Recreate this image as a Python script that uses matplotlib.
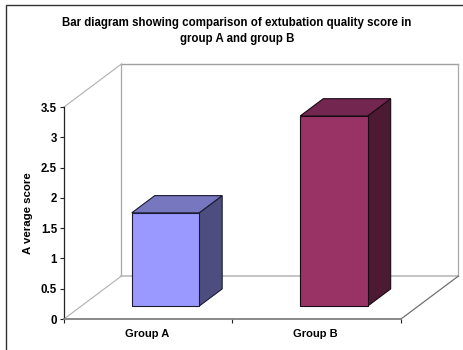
import matplotlib
matplotlib.use("Agg")
import matplotlib.pyplot as plt
from matplotlib.patches import Polygon, Rectangle

# Data
groups = ["Group A", "Group B"]
scores = [1.54, 3.14]
y_ticks = [0, 0.5, 1, 1.5, 2, 2.5, 3, 3.5]
y_tick_labels = ["0", "0.5", "1", "1.5", "2", "2.5", "3", "3.5"]
title = "Bar diagram showing comparison of extubation quality score in\ngroup A and group B"

# Colours: front, side, top
bar_colors = [("#9999FF", "#4D4D80", "#7777C0"), ("#993366", "#4D1A33", "#732650")]

W, H = 464, 350
Y_MAX = 3.5

# Fake 3D: how far the back wall is shifted, in data units
DEPTH_X = 0.341
DEPTH_Y = 0.71


def project(x, y, depth):
    return (x + depth * DEPTH_X, y + depth * DEPTH_Y)


def face(ax, pts, color, edge, lw=0.8, z=3):
    ax.add_patch(Polygon([project(*p) for p in pts], closed=True, facecolor=color,
                         edgecolor=edge, linewidth=lw, clip_on=False, zorder=z,
                         joinstyle="miter"))


def wall_line(ax, a, b, color, lw):
    ax.plot(*zip(project(*a), project(*b)), color=color, lw=lw, clip_on=False, zorder=1)


def draw_walls(ax):
    # back wall
    wall_line(ax, (0, 0, 1), (0, Y_MAX, 1), "#A8A8A8", 0.9)
    wall_line(ax, (0, Y_MAX, 1), (2, Y_MAX, 1), "#A0A0A0", 1.0)
    wall_line(ax, (2, 0, 1), (2, Y_MAX, 1), "#A8A8A8", 0.9)
    wall_line(ax, (0, 0, 1), (2, 0, 1), "#C4C4C4", 1.4)
    # side wall and floor edges
    wall_line(ax, (0, Y_MAX, 0), (0, Y_MAX, 1), "#B0B0B0", 0.8)
    wall_line(ax, (0, 0, 0), (0, 0, 1), "#B0B0B0", 0.8)
    wall_line(ax, (2, 0, 0), (2, 0, 1), "#707070", 0.9)


def draw_bar(ax, center, value, colors, width=0.4, d0=0.3, d1=0.7):
    front, side, top = colors
    x0, x1 = center - width / 2, center + width / 2
    edge = "#1A1A33" if center < 1 else "#1A0A14"
    face(ax, [(x1, 0, d0), (x1, 0, d1), (x1, value, d1), (x1, value, d0)], side, edge)
    face(ax, [(x0, value, d0), (x1, value, d0), (x1, value, d1), (x0, value, d1)], top, edge)
    face(ax, [(x0, 0, d0), (x1, 0, d0), (x1, value, d0), (x0, value, d0)], front, edge)


def main():
    fig = plt.figure(figsize=(W / 100, H / 100), dpi=100)
    plt.rcParams["font.family"] = ["Liberation Sans", "DejaVu Sans"]

    # outer chart border
    fig.add_artist(Rectangle((6.5 / W, -5 / H), (W + 5) / W, (345.5 + 5) / H, transform=fig.transFigure,
                             facecolor="none", edgecolor="#333333", linewidth=1.0))

    left, right, top, bottom = 64, 401, 107, 319
    ax = fig.add_axes([left / W, 1 - bottom / H, (right - left) / W, (bottom - top) / H])
    ax.set_xlim(0, 2)
    ax.set_ylim(0, Y_MAX)
    ax.patch.set_alpha(0)

    for s in ["top", "right"]:
        ax.spines[s].set_visible(False)
    ax.spines["left"].set_color("#222222")
    ax.spines["left"].set_linewidth(0.9)
    ax.spines["bottom"].set_color("#808080")
    ax.spines["bottom"].set_linewidth(1.3)

    ax.set_yticks(y_ticks)
    ax.set_yticklabels(y_tick_labels, fontsize=8.3, fontweight="bold")
    ax.set_xticks([0, 1, 2])
    ax.set_xticklabels([])
    ax.tick_params(axis="both", length=3, width=0.8, color="#222222", pad=2)

    centers = [0.5, 1.5]
    for c, name in zip(centers, groups):
        ax.text(c - 0.006, -0.16, name, ha="center", va="top", fontsize=8, fontweight="bold")

    draw_walls(ax)
    for c, v, col in zip(centers, scores, bar_colors):
        draw_bar(ax, c, v, col)

    fig.text(28 / W, 1 - 213 / H, "A verage score", rotation=90, ha="center", va="center",
             fontsize=8.2, fontweight="bold")
    fig.text(237 / W, 1 - 31 / H, title, ha="center", va="center", fontsize=8.3,
             fontweight="bold", linespacing=1.45)

    fig.savefig("out.png", dpi=100)


if __name__ == "__main__":
    main()
